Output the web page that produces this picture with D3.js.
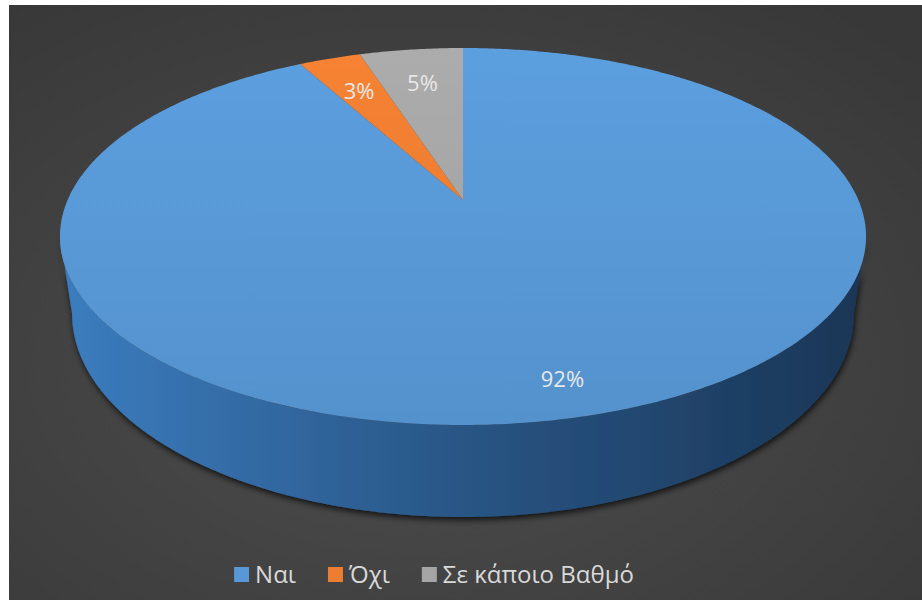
<!DOCTYPE html>
<html>
<head>
<meta charset="utf-8">
<script src="https://cdn.jsdelivr.net/npm/d3@7/dist/d3.min.js"></script>
<style>
  html, body { margin: 0; padding: 0; background: #ffffff; }
  svg { display: block; }
</style>
</head>
<body>
<svg id="chart" width="922" height="600"></svg>
<script>
// Survey answers and their shares (percent)
const categories = ["Ναι", "Όχι", "Σε κάποιο Βαθμό"];
const values = [92, 3, 5];

// Fill colours for each answer: top face, light and dark side tones
const topColors = ["#5898d6", "#ed7d31", "#a5a5a5"];
const sideLight = ["#3b7cbe", "#c8611d", "#8a8a8a"];
const sideDark = ["#1a3656", "#7a3a10", "#555555"];

const W = 922, H = 600;
const svg = d3.select("#chart");
const defs = svg.append("defs");

// Background: white frame with a dark radial gradient panel
const bg = defs.append("radialGradient").attr("id", "bgGrad")
  .attr("cx", "45%").attr("cy", "60%").attr("r", "75%");
bg.append("stop").attr("offset", "0%").attr("stop-color", "#4e4e4e");
bg.append("stop").attr("offset", "100%").attr("stop-color", "#383838");
svg.append("rect").attr("width", W).attr("height", H).attr("fill", "#ffffff");
svg.append("rect").attr("x", 9).attr("y", 5).attr("width", W - 9).attr("height", H - 5)
  .attr("fill", "url(#bgGrad)");

// Perspective projection of the unit disc onto the page
const proj = { cx: 463, cy: 200, A: 395.4, B: 181.4, k: 0.1936, depth: 74.2, shrink: 0.97 };
function topPoint(theta, r = 1) {
  const u = r * Math.sin(theta), v = -r * Math.cos(theta);
  const w = 1 - proj.k * v;
  return [proj.cx + proj.A * u / w, proj.cy + proj.B * v / w];
}
function bottomPoint(theta) {
  const p = topPoint(theta);
  const v = -Math.cos(theta);
  const w = 1 - proj.k * v;
  return [proj.cx + (p[0] - proj.cx) * proj.shrink, p[1] + proj.depth / w];
}
function sampleAngles(a0, a1) {
  const n = Math.max(2, Math.ceil(Math.abs(a1 - a0) / 0.01));
  return d3.range(n + 1).map(i => a0 + (a1 - a0) * i / n);
}

const pie = d3.pie().sort(null).value(d => d.value);
const slices = pie(categories.map((c, i) => ({ name: c, value: values[i], i })));
const line = d3.line().curve(d3.curveLinear);

// Side wall visible between the two silhouette angles (front half)
const thR = Math.acos(-proj.k);
const thL = 2 * Math.PI - thR;

const shadow = defs.append("filter").attr("id", "shadow")
  .attr("x", "-10%").attr("y", "-10%").attr("width", "120%").attr("height", "130%");
shadow.append("feDropShadow").attr("dx", 1).attr("dy", 3).attr("stdDeviation", 3)
  .attr("flood-color", "#000").attr("flood-opacity", 0.75);

const gSide = svg.append("g").attr("filter", "url(#shadow)");
slices.forEach(s => {
  const a0 = Math.max(s.startAngle, thR), a1 = Math.min(s.endAngle, thL);
  if (a1 <= a0) return;
  const gid = "side" + s.data.i;
  const lg = defs.append("linearGradient").attr("id", gid)
    .attr("gradientUnits", "userSpaceOnUse")
    .attr("x1", proj.cx - proj.A).attr("x2", proj.cx + proj.A).attr("y1", 0).attr("y2", 0);
  lg.append("stop").attr("offset", "0%").attr("stop-color", sideLight[s.data.i]);
  lg.append("stop").attr("offset", "55%").attr("stop-color", d3.interpolateRgb(sideLight[s.data.i], sideDark[s.data.i])(0.6));
  lg.append("stop").attr("offset", "100%").attr("stop-color", sideDark[s.data.i]);
  const pts = sampleAngles(a0, a1).map(t => topPoint(t))
    .concat(sampleAngles(a1, a0).map(t => bottomPoint(t)));
  gSide.append("path").attr("d", line(pts) + "Z").attr("fill", `url(#${gid})`);
});

// Top faces
const gTop = svg.append("g");
slices.forEach(s => {
  const gid = "top" + s.data.i;
  const lg = defs.append("linearGradient").attr("id", gid)
    .attr("gradientUnits", "userSpaceOnUse")
    .attr("x1", 0).attr("x2", 0).attr("y1", 48).attr("y2", 425);
  const c = d3.rgb(topColors[s.data.i]);
  lg.append("stop").attr("offset", "0%").attr("stop-color", c.brighter(0.12));
  lg.append("stop").attr("offset", "100%").attr("stop-color", c.darker(0.12));
  const pts = [[proj.cx, proj.cy]].concat(sampleAngles(s.startAngle, s.endAngle).map(t => topPoint(t)));
  gTop.append("path").attr("d", line(pts) + "Z").attr("fill", `url(#${gid})`);
});

// Percentage labels on the top face
const fmt = d => d3.format(".0%")(d / 100);
svg.append("g").selectAll("text").data(slices).join("text")
  .attr("transform", s => {
    const mid = (s.startAngle + s.endAngle) / 2;
    const r = s.data.value > 50 ? 0.85 : 0.75;
    const p = topPoint(mid, r);
    return `translate(${p[0]},${p[1]})`;
  })
  .attr("text-anchor", "middle").attr("dominant-baseline", "central")
  .attr("font-family", "'Open Sans', 'Noto Sans', sans-serif").attr("font-size", 22)
  .attr("fill", "#e8e8e8")
  .text(s => fmt(s.data.value));

// Legend along the bottom
const legend = svg.append("g").attr("font-family", "'Open Sans', 'Noto Sans', sans-serif")
  .attr("font-size", 24).attr("fill", "#d9d9d9");
const items = legend.selectAll("g").data(categories).join("g");
items.append("rect").attr("width", 15).attr("height", 15).attr("y", -8)
  .attr("fill", (d, i) => topColors[i]);
const texts = items.append("text").attr("x", 21).attr("dy", "0.35em").text(d => d);
let x = 0;
const widths = [];
texts.each(function () { widths.push(this.getComputedTextLength()); });
items.attr("transform", (d, i) => {
  const t = `translate(${x},0)`;
  x += 21 + widths[i] + 32;
  return t;
});
const total = x - 32;
legend.attr("transform", `translate(${434 - total / 2},575)`);
</script>
</body>
</html>
